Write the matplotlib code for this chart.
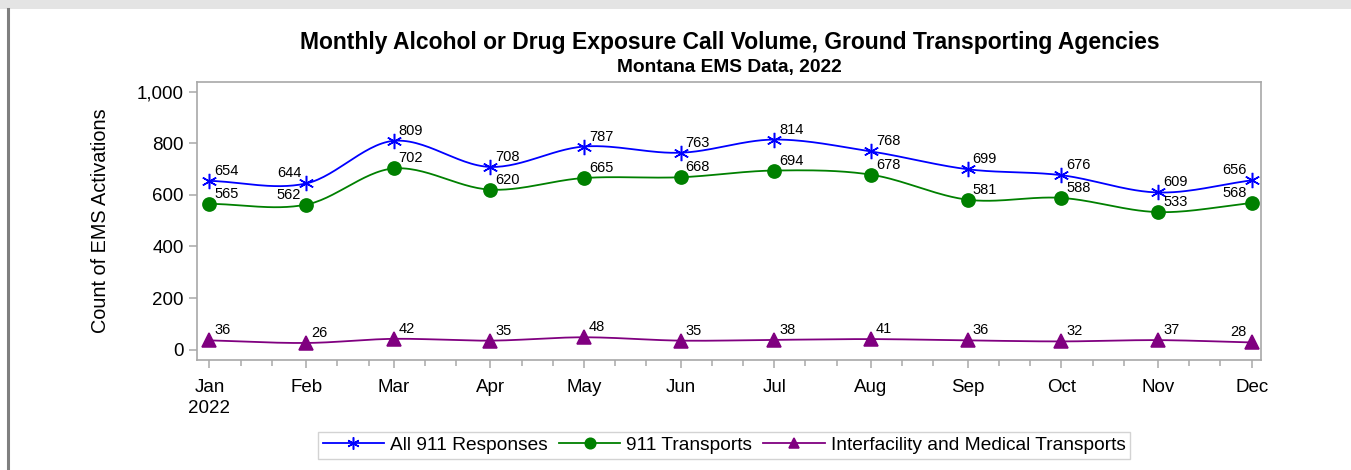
import datetime as dt
import numpy as np
import matplotlib
matplotlib.use("Agg")
import matplotlib.pyplot as plt
import matplotlib.dates as mdates
from matplotlib.lines import Line2D
from matplotlib.patches import Rectangle

plt.rcParams['font.family'] = ['Liberation Sans', 'DejaVu Sans']

months = ["Jan", "Feb", "Mar", "Apr", "May", "Jun",
          "Jul", "Aug", "Sep", "Oct", "Nov", "Dec"]
all_911 = [654, 644, 809, 708, 787, 763, 814, 768, 699, 676, 609, 656]
transports_911 = [565, 562, 702, 620, 665, 668, 694, 678, 581, 588, 533, 568]
interfacility = [36, 26, 42, 35, 48, 35, 38, 41, 36, 32, 37, 28]
# label side for each month: +1 right of the marker, -1 left of it
label_side = [1, -1, 1, 1, 1, 1, 1, 1, 1, 1, 1, -1]
label_side_low = [1, 1, 1, 1, 1, 1, 1, 1, 1, 1, 1, -1]

dates = [dt.date(2022, i + 1, 1) for i in range(12)]
xnum = mdates.date2num(dates)


def smooth(x, y, n=30):
    """Cubic Hermite curve through the points with Catmull-Rom tangents."""
    x = np.asarray(x, float)
    y = np.asarray(y, float)
    m = np.zeros_like(y)
    m[1:-1] = (y[2:] - y[:-2]) / (x[2:] - x[:-2])
    m[0] = (y[1] - y[0]) / (x[1] - x[0])
    m[-1] = (y[-1] - y[-2]) / (x[-1] - x[-2])
    xs, ys = [], []
    for i in range(len(x) - 1):
        h = x[i + 1] - x[i]
        t = np.linspace(0, 1, n, endpoint=False)
        h00 = 2 * t**3 - 3 * t**2 + 1
        h10 = t**3 - 2 * t**2 + t
        h01 = -2 * t**3 + 3 * t**2
        h11 = t**3 - t**2
        xs.append(x[i] + t * h)
        ys.append(h00 * y[i] + h10 * h * m[i] + h01 * y[i + 1] + h11 * h * m[i + 1])
    xs.append([x[-1]])
    ys.append([y[-1]])
    return np.concatenate(xs), np.concatenate(ys)


W, H = 1351, 470
fig = plt.figure(figsize=(W / 100, H / 100), dpi=100)
fig.patch.set_facecolor("white")

# window chrome: grey strip on top and a dark rule on the left
fig.add_artist(Rectangle((0, 1 - 9 / H), 1, 9 / H, transform=fig.transFigure,
                         facecolor="#e4e4e4", edgecolor="none"))
fig.add_artist(Line2D([7.5 / W, 7.5 / W], [0, 1 - 9 / H], transform=fig.transFigure,
                      color="#7f7f7f", lw=2.2))

ax = fig.add_axes([197 / W, 1 - 360 / H, (1261 - 197) / W, (360 - 82) / H])

series = [
    (all_911, "All 911 Responses", "#0000ff", (6, 2, 0), 11, label_side),
    (transports_911, "911 Transports", "#008000", "o", 9.5, label_side),
    (interfacility, "Interfacility and Medical Transports", "#800080", "^", 9.5, label_side_low),
]

handles = []
for vals, name, col, mk, ms, sides in series:
    sx, sy = smooth(xnum, vals)
    ax.plot(sx, sy, color=col, lw=1.3, zorder=2)
    ax.plot(xnum, vals, linestyle="none", marker=mk, ms=ms, color=col,
            markeredgecolor=col, markeredgewidth=1.1, zorder=3)
    handles.append(Line2D([0], [0], color=col, lw=1.3, marker=mk, ms=ms * 0.8,
                          markeredgecolor=col, markeredgewidth=1.1))
    for xv, v, s in zip(xnum, vals, sides):
        ax.annotate(str(v), (xv, v), xytext=(5 * s, 3), textcoords="offset pixels",
                    ha="left" if s > 0 else "right", va="bottom",
                    fontsize=10.5, color="black", zorder=4)

ax.set_yticks([0, 200, 400, 600, 800, 1000])
ax.set_yticklabels(["0", "200", "400", "600", "800", "1,000"])
ax.set_xticks(xnum)
ax.set_xticklabels(["Jan\n2022"] + months[1:])
minor = []
for i in range(11):
    for d in (11, 21):
        minor.append(mdates.date2num(dt.date(2022, i + 1, d)))
ax.set_xticks(minor, minor=True)
ax.set_xlim(mdates.date2num(dt.date(2021, 12, 28)), mdates.date2num(dt.date(2022, 12, 4)))
ax.set_ylim(-40, 1037)

for sp in ax.spines.values():
    sp.set_color("#a8a8a8")
    sp.set_linewidth(1.2)
ax.tick_params(axis="both", which="major", colors="#a8a8a8", length=6, width=1.1,
               labelcolor="black", labelsize=13.5)
ax.tick_params(axis="x", which="minor", colors="#a8a8a8", length=4, width=1.1)
ax.tick_params(axis="x", which="major", pad=8)
for lbl in ax.get_xticklabels():
    lbl.set_verticalalignment("top")
    lbl.set_linespacing(1.3)

ax.set_ylabel("Count of EMS Activations", fontsize=14.3, labelpad=19)

fig.text((297 + 1163) / 2 / W, 1 - 42 / H,
         "Monthly Alcohol or Drug Exposure Call Volume, Ground Transporting Agencies",
         ha="center", va="center", fontsize=16.5, fontweight="bold")
fig.text((614 + 845) / 2 / W, 1 - 67.5 / H, "Montana EMS Data, 2022",
         ha="center", va="center", fontsize=13.8, fontweight="bold")

leg = fig.legend(handles, [s[1] for s in series], loc="center",
                 bbox_to_anchor=(724 / W, 1 - 445 / H), ncol=3, fontsize=13.8,
                 frameon=True, fancybox=False, handlelength=3.2, handletextpad=0.3,
                 columnspacing=0.6, borderpad=0.25)
leg.get_frame().set_edgecolor("#c8c8c8")
leg.get_frame().set_linewidth(1.0)

fig.savefig("out.png", dpi=100)
